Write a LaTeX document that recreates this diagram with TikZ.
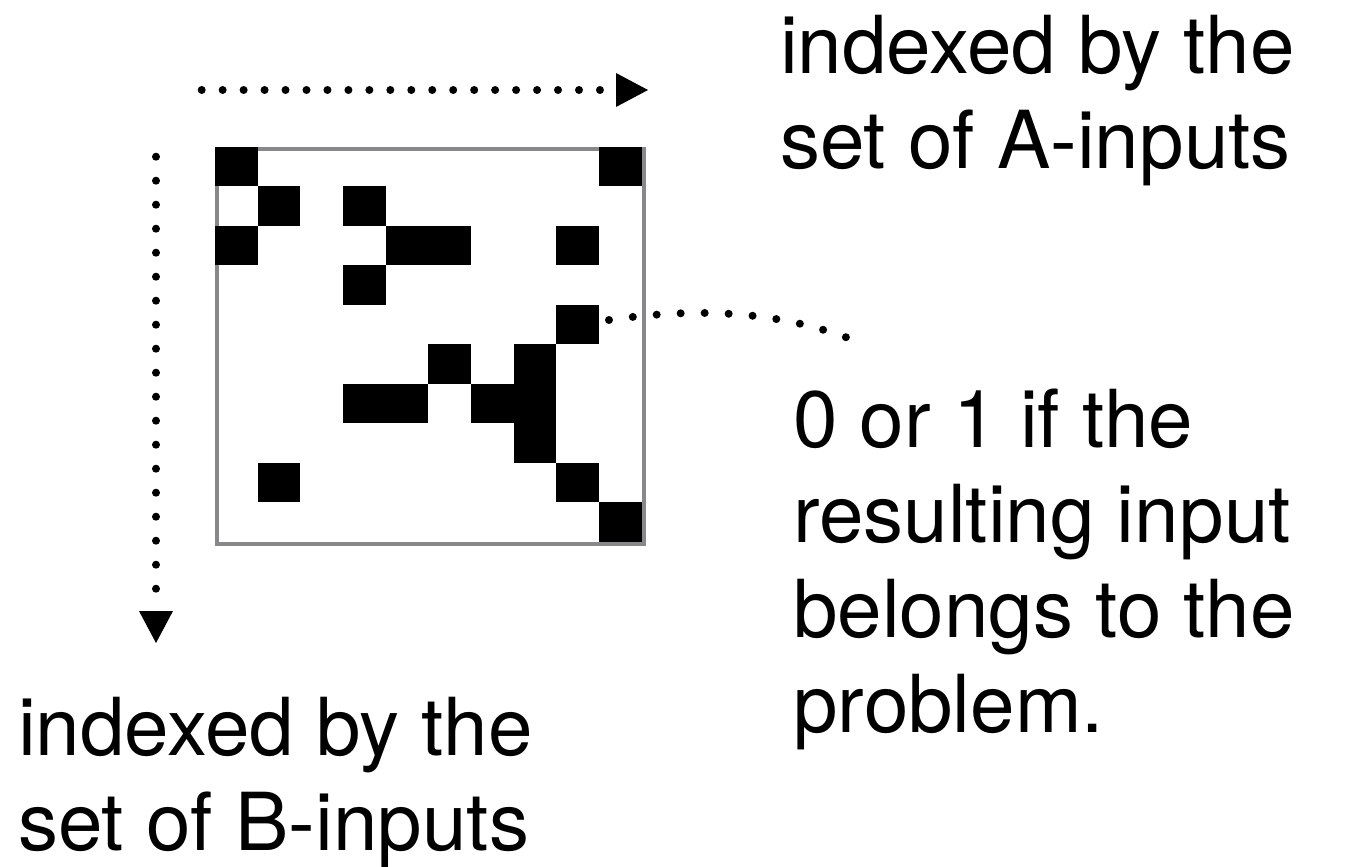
\documentclass[tikz,border=0pt]{standalone}
\usepackage{fontspec}
\setmainfont{TeX Gyre Heros}
\usetikzlibrary{arrows.meta}
\definecolor{boxgray}{RGB}{134,136,139}
\tikzset{
  dotline/.style={line width=8pt, line cap=round, dash pattern=on 0pt off #1},
  dotline/.default=20.96pt,
  tipA/.style={-{Triangle[length=32pt,width=34pt,line width=0pt]}},
  cellfill/.style={fill=black},
  label/.style={anchor=base west, inner sep=0pt, align=left,
    font=\fontsize{80pt}{95pt}\selectfont}
}
\begin{document}
\begin{tikzpicture}[x=1pt,y=-1pt]
\useasboundingbox (0,0) rectangle (1345,867);
% matrix frame
\node[draw=boxgray, line width=4pt, minimum width=426.7pt, minimum height=395pt,
      inner sep=0pt, anchor=north west] (grid) at (215,146.5) {};
% black cells
\foreach \r/\c in {0/0,0/9,1/1,1/3,2/0,2/4,2/5,2/8,3/3,4/8,5/5,5/7,6/3,6/4,6/6,6/7,7/7,8/1,8/8,9/9}
  \fill[cellfill] (215+\c*42.67, 146.5+\r*39.5) rectangle ++(42.67, 39.5);
% connector ends
\coordinate (ha0) at (201.7,90);
\coordinate (ha1) at (648,90);
\coordinate (va0) at (156,156.7);
\coordinate (va1) at (156,643);
\coordinate (c0) at (609,320);
\coordinate (c1) at (868,346);
% labels (base = baseline of the last line)
\node[label] (tA) at (780,168) {indexed by the\\set of A-inputs};
\node[label] (tR) at (793,732) {0 or 1 if the\\resulting input\\belongs to the\\problem.};
\node[label] (tB) at (18,850) {indexed by the\\set of B-inputs};
% connectors
\draw[dotline, tipA] (ha0) -- (ha1);
\draw[dotline=24pt, tipA] (va0) -- (va1);
\draw[dotline=24pt] (c0) .. controls (698,307) and (785,310) .. (c1);
\end{tikzpicture}
\end{document}
